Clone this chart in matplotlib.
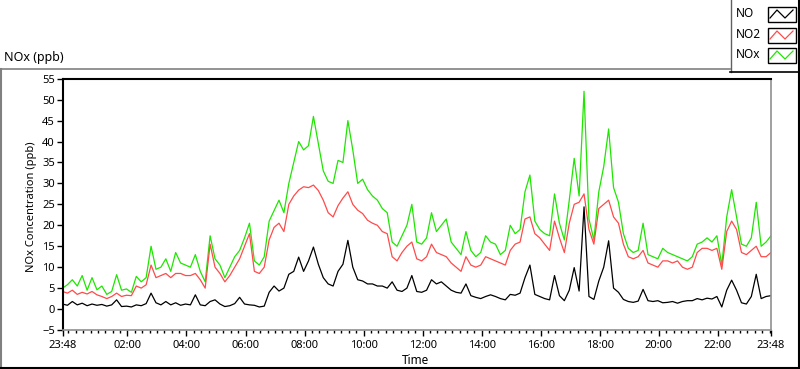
"""NOx / NO2 / NO daily trace, LabVIEW-style waveform chart."""
import numpy as np
import matplotlib
matplotlib.use("Agg")
import matplotlib.pyplot as plt
from matplotlib.patches import Rectangle

plt.rcParams["font.family"] = ["Noto Sans", "DejaVu Sans"]

# hours since 23:48, one sample every 10 minutes
hours = np.arange(145) / 6.0

nox = [5.0, 5.8, 7.0, 5.5, 8.0, 4.5, 7.5, 4.6, 5.5, 3.5, 4.2, 8.2,
       4.5, 4.8, 4.0, 7.8, 6.5, 7.5, 15.0, 9.5, 10.0, 12.0, 9.0, 13.5,
       11.0, 10.5, 10.0, 13.0, 9.0, 6.5, 17.5, 12.0, 10.5, 7.5, 10.0, 12.5,
       14.0, 17.0, 20.5, 11.5, 10.5, 12.5, 21.0, 23.5, 26.0, 23.0, 30.0, 35.0,
       40.0, 38.0, 39.0, 46.0, 39.5, 33.0, 30.5, 30.0, 35.5, 35.0, 45.0, 38.0,
       30.0, 31.0, 28.5, 27.0, 26.0, 24.0, 23.0, 16.0, 15.0, 17.5, 20.0, 25.0,
       16.0, 15.5, 17.0, 23.0, 18.5, 20.0, 21.5, 16.0, 14.5, 13.0, 18.5, 14.0,
       12.5, 13.5, 17.5, 16.0, 15.5, 13.0, 14.0, 20.0, 18.0, 19.0, 28.0, 32.0,
       21.0, 19.0, 18.0, 17.5, 27.5, 20.5, 16.5, 26.0, 36.0, 27.0, 52.0, 21.5,
       16.5, 28.0, 34.0, 43.0, 29.0, 25.5, 18.0, 14.5, 13.5, 14.0, 20.5, 13.0,
       12.5, 12.0, 14.5, 13.5, 13.0, 12.5, 12.0, 11.5, 12.5, 15.5, 16.0, 17.0,
       16.0, 17.5, 10.5, 22.0, 28.5, 22.0, 15.5, 15.0, 17.0, 25.5, 15.0, 16.0, 17.5]

no2 = [4.2, 3.8, 4.5, 3.5, 4.0, 3.6, 4.2, 3.4, 3.0, 2.5, 3.0, 3.8,
       3.0, 3.3, 3.2, 5.5, 5.0, 5.8, 10.5, 7.5, 8.0, 8.5, 7.5, 8.5,
       8.5, 8.0, 8.0, 8.5, 7.0, 5.0, 15.5, 10.0, 8.5, 6.5, 8.0, 10.0,
       12.0, 15.0, 18.0, 9.0, 8.5, 10.0, 16.5, 19.5, 20.5, 18.5, 25.0, 27.0,
       28.4, 29.2, 29.0, 29.6, 28.3, 26.0, 23.0, 22.0, 24.7, 26.5, 28.0, 25.0,
       23.6, 22.8, 21.2, 20.5, 20.0, 18.5, 18.0, 12.5, 11.5, 13.5, 15.0, 16.0,
       12.0, 11.5, 12.5, 15.5, 13.5, 13.0, 12.5, 11.0, 10.0, 9.0, 12.5, 10.5,
       10.0, 10.5, 12.5, 12.0, 11.5, 11.0, 10.5, 14.0, 15.5, 16.0, 21.5, 22.0,
       18.0, 17.0, 15.5, 14.0, 21.0, 17.0, 13.5, 20.5, 25.0, 25.5, 27.5, 19.0,
       15.5, 24.0, 25.0, 26.0, 22.0, 20.5, 15.5, 12.5, 12.0, 12.5, 14.0, 11.0,
       10.5, 10.0, 11.5, 11.5, 11.0, 11.5, 10.0, 9.5, 10.0, 13.5, 14.5, 14.5,
       14.0, 14.5, 9.5, 18.5, 21.0, 19.0, 13.5, 13.0, 14.0, 15.0, 12.5, 12.5, 13.5]

no = [1.2, 0.9, 1.8, 1.0, 1.4, 0.8, 1.2, 0.9, 1.1, 0.7, 1.0, 2.2,
      0.6, 0.7, 0.5, 1.0, 0.8, 1.3, 3.8, 1.5, 1.0, 1.8, 1.0, 1.5,
      0.9, 1.2, 1.0, 3.4, 1.0, 0.8, 1.8, 2.2, 1.2, 0.6, 0.8, 1.3,
      2.8, 1.2, 1.0, 0.9, 0.5, 0.7, 4.0, 5.5, 4.3, 5.0, 8.3, 9.0,
      12.4, 9.0, 11.5, 14.8, 10.7, 7.5, 6.0, 5.5, 9.0, 10.7, 16.4, 10.0,
      7.0, 6.7, 6.0, 6.0, 5.5, 5.5, 5.0, 6.5, 4.5, 4.2, 5.0, 8.0,
      4.2, 4.0, 4.5, 7.0, 6.0, 6.5, 5.5, 4.5, 4.0, 3.8, 6.0, 3.2,
      2.8, 2.5, 3.0, 3.4, 3.0, 2.5, 2.2, 3.5, 3.3, 3.8, 7.5, 10.5,
      3.5, 3.0, 2.5, 2.2, 8.0, 3.2, 2.0, 4.5, 9.9, 4.3, 24.4, 3.0,
      2.3, 6.7, 10.0, 16.3, 5.0, 4.0, 2.3, 1.8, 1.6, 1.9, 4.7, 2.0,
      1.8, 2.0, 1.5, 1.6, 1.8, 1.4, 1.8, 2.0, 2.0, 2.5, 2.2, 2.6,
      2.4, 3.0, 0.5, 4.5, 6.9, 4.5, 1.5, 1.2, 3.0, 8.3, 2.5, 3.0, 3.2]

tick_hours = [0, 2.2, 4.2, 6.2, 8.2, 10.2, 12.2, 14.2, 16.2, 18.2, 20.2, 22.2, 24]
tick_labels = ["23:48", "02:00", "04:00", "06:00", "08:00", "10:00", "12:00",
               "14:00", "16:00", "18:00", "20:00", "22:00", "23:48"]

GREEN, RED, BLACK = "#1ee600", "#ff4a4a", "black"

W, H = 800, 369
fig = plt.figure(figsize=(W / 100, H / 100), dpi=100)

# background layer in pixel coordinates for the frame, captions and legend
bg = fig.add_axes([0, 0, 1, 1], zorder=0)
bg.set_xlim(0, W); bg.set_ylim(H, 0); bg.axis("off")
bg.plot([0.5, 730], [69, 69], color="#808080", lw=1.2)
bg.plot([0.8, 0.8], [69, 368], color="#808080", lw=1.5)
bg.plot([0, 800], [367.8, 367.8], color="black", lw=1.5)
bg.plot([799, 799], [0, 368], color="black", lw=1.5)
bg.plot([730.5, 730.5], [0, 72], color="#606060", lw=1.0)
bg.plot([730, 800], [72, 72], color="black", lw=1.2)
bg.text(4, 57, "NOx (ppb)", fontsize=9, va="center", ha="left")
bg.text(32, 207, "NOx Concentration (ppb)", fontsize=8, rotation=90,
        va="center", ha="center")
bg.text(416, 361, "Time", fontsize=8.5, va="center", ha="center")

# legend: name + boxed zigzag swatch
for (name, col, y0) in [("NO", BLACK, 7), ("NO2", RED, 28), ("NOx", GREEN, 48)]:
    bg.text(736, y0 + 6.5, name, fontsize=8.5, va="center", ha="left")
    bg.add_patch(Rectangle((767.5, y0), 28, 15, fill=False, ec="black", lw=1))
    bg.plot([770, 777, 785, 793], [y0 + 11, y0 + 3, y0 + 11, y0 + 3],
            color=col, lw=0.9)

ax = fig.add_axes([62.5 / W, 1 - 330 / H, (771 - 62.5) / W, (330 - 78.7) / H],
                  zorder=1)
ax.plot(hours, nox, color=GREEN, lw=0.9)
ax.plot(hours, no2, color=RED, lw=0.9)
ax.plot(hours, no, color=BLACK, lw=0.9)

ax.set_xlim(0, 24)
ax.set_ylim(-5, 55)
ax.set_yticks(np.arange(-5, 56, 5))
ax.set_xticks(tick_hours)
ax.set_xticklabels(tick_labels)
ax.set_xticks(np.arange(0.2, 24, 0.25), minor=True)
ax.tick_params(axis="y", length=4, width=1, pad=1.5, labelsize=8)
ax.tick_params(axis="x", which="major", length=4, width=1, pad=3, labelsize=8)
ax.tick_params(axis="x", which="minor", length=2.5, width=1)
for s in ("top", "left"):
    ax.spines[s].set_color("black"); ax.spines[s].set_linewidth(1.5)
for s in ("right", "bottom"):
    ax.spines[s].set_color("#909090"); ax.spines[s].set_linewidth(1.2)

fig.savefig("out.png", dpi=100)
